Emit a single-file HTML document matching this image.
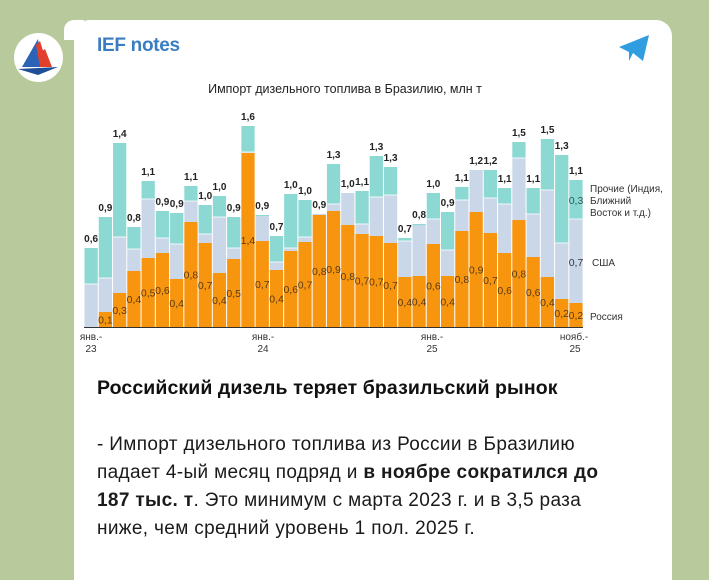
<!DOCTYPE html>
<html><head><meta charset="utf-8">
<style>
body{margin:0;width:709px;height:557px;overflow:hidden;background:#b8c99b;font-family:"Liberation Sans",sans-serif;position:relative}
.card{position:absolute;left:74px;top:20px;width:598px;height:560px;background:#fff;border-radius:16px 16px 0 0}
.tail{position:absolute;left:64px;top:20px;width:20px;height:20px;background:#fff;border-radius:10px 0 0 0}
.av{position:absolute;left:14px;top:33px;width:49px;height:49px;border-radius:50%;background:#fff;overflow:hidden}
.name{position:absolute;left:97px;top:35px;font-size:19px;font-weight:bold;color:#3a7dc1;letter-spacing:-0.3px}
.h{position:absolute;left:97px;top:377px;font-size:19.5px;font-weight:bold;color:#111;letter-spacing:0.1px;white-space:nowrap}
.p{position:absolute;left:97px;top:431px;font-size:19px;line-height:28px;color:#1a1a1a;letter-spacing:0.35px;white-space:nowrap}
svg text{font-family:"Liberation Sans",sans-serif}
</style></head><body>
<div class="tail"></div>
<div class="card"></div>
<div class="av"><svg width="49" height="49"><polygon points="8,34 24,6 28,34" fill="#2b64b6"/><polygon points="22,12 26,8 34,34 26,34" fill="#e2402c"/><polygon points="28,18 31,16 38,34 33,34" fill="#e2402c"/><polygon points="4,36 44,34 24,42" fill="#1f4f98"/></svg></div>
<div class="name">IEF notes</div>
<svg style="position:absolute;left:617px;top:33px" width="34" height="30"><polygon points="2,14 32,2 26,28 16,20 12,28 12,19" fill="#2f9de0"/></svg>
<svg id="ch" style="position:absolute;left:0;top:0" width="709" height="360"></svg>
<div class="h">Российский дизель теряет бразильский рынок</div>
<div class="p">- Импорт дизельного топлива из России в Бразилию<br>падает 4-ый месяц подряд и <b>в ноябре сократился до</b><br><b>187 тыс. т</b>. Это минимум с марта 2023 г. и в 3,5 раза<br>ниже, чем средний уровень 1 пол. 2025 г.</div>
<script>
var d=[[248,284,327,"0,6",""],[217,278,312,"0,9","0,1"],[143,237,293,"1,4","0,3"],[227,249,271,"0,8","0,4"],[181,199,258,"1,1","0,5"],[211,238,253,"0,9","0,6"],[213,244,279,"0,9","0,4"],[186,201,222,"1,1","0,8"],[205,234,243,"1,0","0,7"],[196,217,273,"1,0","0,4"],[217,248,259,"0,9","0,5"],[126,152,153,"1,6","1,4"],[215,216,241,"0,9","0,7"],[236,262,270,"0,7","0,4"],[194,248,251,"1,0","0,6"],[200,237,242,"1,0","0,7"],[214,214,215,"0,9","0,8"],[164,204,211,"1,3","0,9"],[193,193,225,"1,0","0,8"],[191,224,234,"1,1","0,7"],[156,197,236,"1,3","0,7"],[167,195,243,"1,3","0,7"],[238,241,277,"0,7","0,4"],[224,225,276,"0,8","0,4"],[193,219,244,"1,0","0,6"],[212,250,276,"0,9","0,4"],[187,200,231,"1,1","0,8"],[170,170,212,"1,2","0,9"],[170,198,233,"1,2","0,7"],[188,204,253,"1,1","0,6"],[142,158,220,"1,5","0,8"],[188,214,257,"1,1","0,6"],[139,190,277,"1,5","0,4"],[155,243,299,"1,3","0,2"],[180,219,303,"1,1","0,2"]];
var s='<text x="345" y="93" font-size="12.5" text-anchor="middle" fill="#222">Импорт дизельного топлива в Бразилию, млн т</text>';
var B=327,w=14.26;
d.forEach(function(r,i){var x=84.5+i*w,ww=w-1;
s+='<rect x="'+x+'" y="'+r[0]+'" width="'+ww+'" height="'+(r[1]-r[0])+'" fill="#8cd9d3"/>';
s+='<rect x="'+x+'" y="'+r[1]+'" width="'+ww+'" height="'+(r[2]-r[1])+'" fill="#cad7e8"/>';
s+='<rect x="'+x+'" y="'+r[2]+'" width="'+ww+'" height="'+(B-r[2])+'" fill="#f7950f"/>';
if(r[1]>r[0]+1)s+='<line x1="'+x+'" x2="'+(x+ww)+'" y1="'+r[1]+'" y2="'+r[1]+'" stroke="#fff" stroke-width="0.8"/>';
s+='<text x="'+(x+ww/2)+'" y="'+(r[0]-6)+'" font-size="10" font-weight="bold" text-anchor="middle" fill="#222">'+r[3]+'</text>';
if(r[4])s+='<text x="'+(x+ww/2)+'" y="'+((r[2]+B)/2+4)+'" font-size="10.5" text-anchor="middle" fill="#5a3a10">'+r[4]+'</text>';
});
s+='<line x1="84" x2="583" y1="327.5" y2="327.5" stroke="#333" stroke-width="1"/>';
var t=function(x,y,v,a,c,f){s+='<text x="'+x+'" y="'+y+'" font-size="'+(f||10)+'" text-anchor="'+(a||"start")+'" fill="'+(c||"#333")+'">'+v+'</text>';};
t(91,340,"янв.-","middle");t(91,352,"23","middle");
t(263,340,"янв.-","middle");t(263,352,"24","middle");
t(432,340,"янв.-","middle");t(432,352,"25","middle");
t(574,340,"нояб.-","middle");t(575,352,"25","middle");
t(590,192,"Прочие (Индия,");t(590,204,"Ближний");t(590,216,"Восток и т.д.)");
t(576,204,"0,3","middle","#2a5a5a",10.5);t(576,266,"0,7","middle","#334",10.5);
t(592,266,"США");t(590,320,"Россия");
document.getElementById("ch").innerHTML=s;
</script>
</body></html>
